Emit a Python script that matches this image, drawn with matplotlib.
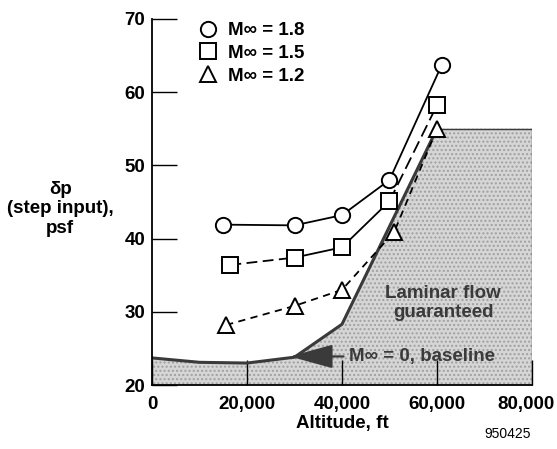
import matplotlib
matplotlib.use("Agg")
import matplotlib.pyplot as plt
from matplotlib.lines import Line2D
from matplotlib.transforms import ScaledTranslation

plt.rcParams['font.family'] = ['Liberation Sans', 'DejaVu Sans']

# Data
alt_18 = [15000, 30000, 40000, 50000, 61000]
dp_18 = [41.9, 41.8, 43.2, 48.0, 63.7]
alt_15 = [16500, 30000, 40000, 50000, 60000]
dp_15 = [36.4, 37.4, 38.8, 45.1, 58.2]
alt_12 = [15600, 30000, 40000, 51000, 60000]
dp_12 = [28.2, 30.8, 33.0, 40.9, 55.0]
base_alt = [0, 10000, 20000, 30000, 40000, 60000, 80000]
base_dp = [23.7, 23.1, 23.0, 23.8, 28.3, 55.0, 55.0]
labels = ['M\u221e = 1.8', 'M\u221e = 1.5', 'M\u221e = 1.2']
xticks = [0, 20000, 40000, 60000, 80000]
xticklabels = ['0', '20,000', '40,000', '60,000', '80,000']
yticks = [20, 30, 40, 50, 60, 70]

FS = 13.5

fig = plt.figure(figsize=(5.57, 4.49), dpi=100)
ax = fig.add_axes([0.273, 0.1425, 0.682, 0.8155])
ax.set_xlim(0, 80000)
ax.set_ylim(20, 70)

# Shaded region
poly_x = base_alt + [80000, 0]
poly_y = base_dp + [20, 20]
ax.fill(poly_x, poly_y, facecolor='#d6d6d6', edgecolor='#a0a0a0', hatch='....',
        linewidth=0, zorder=1)
ax.plot(base_alt[:-1], base_dp[:-1], color='#3a3a3a', lw=2.2, zorder=2)
ax.plot(base_alt[-2:] + [80000], base_dp[-2:] + [20], color='#3a3a3a', lw=1.0, zorder=2)

# Series
mk = dict(mfc='white', mec='black', mew=1.4, ms=11, zorder=5)
ax.plot(alt_18, dp_18, '-', color='black', lw=1.3, zorder=3)
ax.plot(alt_18, dp_18, 'o', ls='none', **mk)

styles_15 = [(0, (6, 3)), '-', '-', (0, (7, 3))]
for i, st in enumerate(styles_15):
    ax.plot(alt_15[i:i+2], dp_15[i:i+2], color='black', lw=1.3, ls=st, zorder=3)
ax.plot(alt_15, dp_15, 's', ls='none', **mk)

ax.plot(alt_12, dp_12, color='black', lw=1.3, ls=(0, (4, 3)), zorder=3)
ax.plot(alt_12, dp_12, '^', ls='none', **{**mk, 'ms': 12})

# Annotations
ax.text(61300, 31.2, 'Laminar flow\nguaranteed', ha='center', va='center',
        fontsize=FS, fontweight='bold', color='#3a3a3a', linespacing=1.1, zorder=4)
ax.annotate('M\u221e = 0, baseline', xy=(29000, 23.9), xytext=(41500, 23.9),
            ha='left', va='center', fontsize=FS, fontweight='bold', color='#3a3a3a',
            arrowprops=dict(arrowstyle='-|>,head_length=2.0,head_width=0.55',
                            color='#3a3a3a', lw=1.6, shrinkA=2, shrinkB=0), zorder=4)

# Axes styling
for s in ['top', 'right']:
    ax.spines[s].set_visible(False)
for s in ['left', 'bottom']:
    ax.spines[s].set_linewidth(1.3)
ax.set_xticks(xticks)
ax.set_xticklabels(xticklabels)
ax.set_yticks(yticks)
ax.tick_params(direction='in', length=18, width=1.0, labelsize=FS, pad=5)
ax.tick_params(axis='x', pad=8)
for lab in ax.get_xticklabels() + ax.get_yticklabels():
    lab.set_fontweight('bold')
last = ax.get_xticklabels()[-1]
last.set_transform(last.get_transform() + ScaledTranslation(-6 / 100, 0, fig.dpi_scale_trans))
ax.set_xlabel('Altitude, ft', fontsize=FS, fontweight='bold', labelpad=1)

fig.text(0.108, 0.535, '\u03b4p\n(step input),\npsf', ha='center', va='center',
         fontsize=FS, fontweight='bold', linespacing=1.2)
fig.text(0.912, 0.018, '950425', ha='center', va='bottom', fontsize=10)

handles = [Line2D([], [], marker=m, ls='none', mfc='white', mec='black', mew=1.4, ms=s)
           for m, s in [('o', 11), ('s', 11), ('^', 12)]]
leg = ax.legend(handles, labels, loc='upper left', bbox_to_anchor=(0.333, 0.98),
                bbox_transform=fig.transFigure, frameon=False, handlelength=1.0,
                handletextpad=0.55, labelspacing=0.3, borderpad=0.2,
                prop=dict(size=FS, weight='bold'))

fig.savefig('out.png', dpi=100)
